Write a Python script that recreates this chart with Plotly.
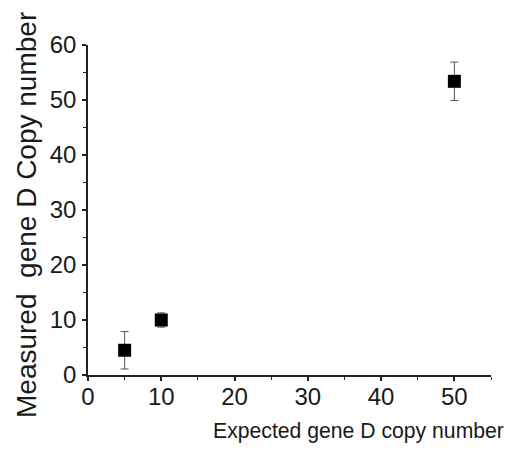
import plotly.graph_objects as go

expected = [5, 10, 50]
measured = [4.5, 10.0, 53.4]
err = [3.4, 1.3, 3.5]

x_ticks = [0, 10, 20, 30, 40, 50]
y_ticks = [0, 10, 20, 30, 40, 50, 60]

fig = go.Figure()
fig.add_trace(go.Scatter(
    x=expected, y=measured, mode="markers",
    marker=dict(symbol="square", size=13, color="black"),
    error_y=dict(type="data", array=err, visible=True, color="#555555",
                 thickness=1, width=4),
    showlegend=False, cliponaxis=False,
))

fam = "Liberation Sans, Arial, sans-serif"
tickfont = dict(family=fam, size=24, color="#1a1a1a")
xtfont = dict(family=fam, size=21.2, color="#1a1a1a")
ytfont = dict(family=fam, size=28, color="#1a1a1a")

fig.update_layout(
    width=512, height=454,
    margin=dict(l=88, r=21, t=45, b=79),
    paper_bgcolor="white", plot_bgcolor="white",
    font=tickfont,
    xaxis=dict(range=[0, 55], tickvals=x_ticks, showgrid=False, zeroline=False,
               showline=True, linecolor="#222222", linewidth=1.5,
               ticks="outside", ticklen=4, tickwidth=1.5, tickcolor="#222222",
               minor=dict(tickvals=[5, 15, 25, 35, 45, 55], ticks="outside",
                          ticklen=3, tickwidth=1.2, tickcolor="#222222"),
               tickfont=tickfont, ticklabelstandoff=-5),
    yaxis=dict(range=[0, 60], tickvals=y_ticks, showgrid=False, zeroline=False,
               showline=True, linecolor="#222222", linewidth=1.5,
               ticks="outside", ticklen=4, tickwidth=1.5, tickcolor="#222222",
               minor=dict(tickvals=[5, 15, 25, 35, 45, 55], ticks="outside",
                          ticklen=3, tickwidth=1.2, tickcolor="#222222"),
               tickfont=tickfont, ticklabelstandoff=1),
    annotations=[
        dict(text="Expected gene D copy number", xref="paper", yref="paper",
             x=(358 - 88) / 403, y=-(431 - 375) / 330, xanchor="center",
             yanchor="middle", showarrow=False, font=xtfont),
        dict(text="Measured  gene D Copy number", xref="paper", yref="paper",
             x=-(88 - 26) / 403, y=(375 - 215) / 330, xanchor="center",
             yanchor="middle", showarrow=False, textangle=-90, font=ytfont),
    ],
)

fig.write_html("out.html", config={"displayModeBar": False},
               post_script="document.body.style.margin='0';document.body.style.padding='0';")
